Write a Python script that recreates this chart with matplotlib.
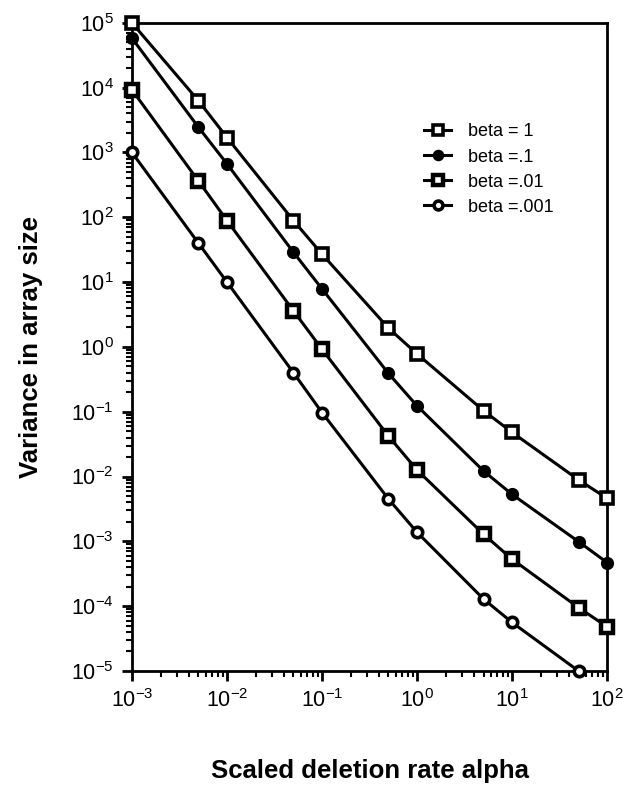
import matplotlib
matplotlib.use("Agg")
import matplotlib.pyplot as plt
from matplotlib.ticker import LogLocator, LogFormatterSciNotation, NullFormatter

plt.rcParams['font.family'] = ['Liberation Sans', 'DejaVu Sans']
plt.rcParams['mathtext.fontset'] = 'custom'
plt.rcParams['mathtext.rm'] = 'Liberation Sans'
plt.rcParams['mathtext.it'] = 'Liberation Sans:italic'
plt.rcParams['mathtext.bf'] = 'Liberation Sans:bold'

alpha = [0.001, 0.005, 0.01, 0.05, 0.1, 0.5, 1, 5, 10, 50, 100]
beta_1 = [1e5, 6300, 1700, 89, 27, 1.95, 0.78, 0.104, 0.048, 0.0089, 0.0046]
beta_01 = [58000, 2460, 667, 28.9, 7.85, 0.39, 0.123, 0.0122, 0.0053, 0.00099, 0.00047]
beta_001 = [9250, 364, 89, 3.6, 0.92, 0.042, 0.0126, 0.00129, 0.00053, 9.5e-5, 4.8e-5]
beta_0001 = [1000, 40, 10, 0.40, 0.097, 0.0045, 0.00138, 1.29e-4, 5.6e-5, 1.0e-5]
labels = ['beta = 1', 'beta =.1', 'beta =.01', 'beta =.001']

fig = plt.figure(figsize=(6.24, 7.89), dpi=100)
ax = fig.add_axes([0.2115, 0.1496, 0.7615, 0.8214])

lw = 2.2
ax.plot(alpha, beta_1, '-', color='black', lw=lw, marker='s', ms=8, mfc='white',
        mec='black', mew=2.6, label=labels[0], clip_on=False, zorder=3)
ax.plot(alpha, beta_01, '-', color='black', lw=lw, marker='o', ms=8, mfc='black',
        mec='black', mew=1.5, label=labels[1], clip_on=False, zorder=3)
ax.plot(alpha, beta_001, '-', color='black', lw=lw, marker='s', ms=8.5, mfc='white',
        mec='black', mew=3.2, label=labels[2], clip_on=False, zorder=3)
ax.plot(alpha[:len(beta_0001)], beta_0001, '-', color='black', lw=lw, marker='o', ms=7.5,
        mfc='white', mec='black', mew=2.6, label=labels[3], clip_on=False, zorder=3)

ax.set_xscale('log')
ax.set_yscale('log')
ax.set_xlim(1e-3, 1e2)
ax.set_ylim(1e-5, 1e5)

ax.xaxis.set_major_locator(LogLocator(base=10, numticks=20))
ax.yaxis.set_major_locator(LogLocator(base=10, numticks=20))
ax.xaxis.set_minor_locator(LogLocator(base=10, subs=range(2, 10), numticks=20))
ax.yaxis.set_minor_locator(LogLocator(base=10, subs=range(2, 10), numticks=20))
ax.xaxis.set_major_formatter(LogFormatterSciNotation())
ax.yaxis.set_major_formatter(LogFormatterSciNotation())
ax.xaxis.set_minor_formatter(NullFormatter())
ax.yaxis.set_minor_formatter(NullFormatter())

ax.tick_params(which='major', direction='out', length=7, width=2, labelsize=15.5,
               top=False, right=False, pad=6)
ax.tick_params(which='minor', direction='out', length=4, width=1.5, top=False, right=False)
for s in ax.spines.values():
    s.set_linewidth(2)

ax.set_ylabel('Variance in array size', fontsize=18.5, fontweight='bold', labelpad=20)
ax.set_xlabel('Scaled deletion rate alpha', fontsize=18.5, fontweight='bold', labelpad=34)

leg = ax.legend(loc='upper left', bbox_to_anchor=(0.6, 0.856), frameon=False,
                fontsize=13, handlelength=1.5, handletextpad=0.9, labelspacing=0.45,
                borderaxespad=0, markerscale=0.85)

fig.savefig('out.png', dpi=100)
